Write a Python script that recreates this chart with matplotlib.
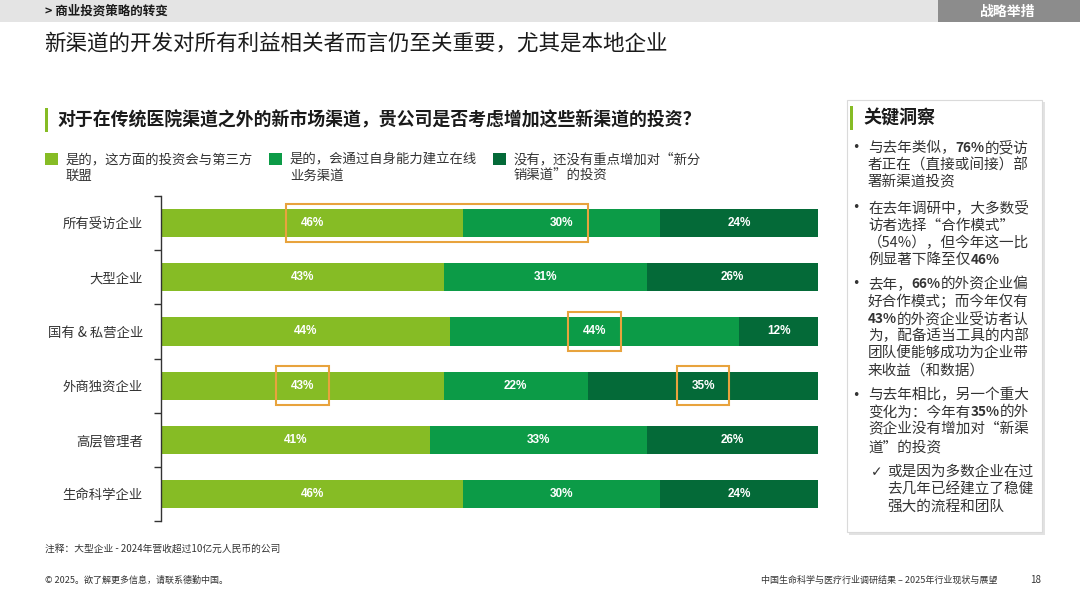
import matplotlib
matplotlib.use("Agg")
import matplotlib.pyplot as plt
from matplotlib.patches import Rectangle
import numpy as np

plt.rcParams['font.family'] = ['Noto Sans CJK SC', 'DejaVu Sans']

# ---------------- data ----------------
categories = ["所有受访企业", "大型企业", "国有 & 私营企业", "外商独资企业", "高层管理者", "生命科学企业"]
third_party = [46, 43, 44, 43, 41, 46]
own_online = [30, 31, 44, 22, 33, 30]
no_increase = [24, 26, 12, 35, 26, 24]
series = [third_party, own_online, no_increase]
legend_lines = [["是的，这方面的投资会与第三方", "联盟"],
                ["是的，会通过自身能力建立在线", "业务渠道"],
                ["没有，还没有重点增加对“新分", "销渠道”的投资"]]
# highlighted cells: (row, first series, last series)
highlights = [(0, 0, 1), (2, 1, 1), (3, 0, 0), (3, 2, 2)]

colors = ["#86BC25", "#0C9B47", "#046A38"]
orange = "#E8A33D"

W, H = 1080, 608
fig = plt.figure(figsize=(W / 100, H / 100), dpi=100)
fig.patch.set_facecolor("white")


def fx(x):
    return x / W


def fy(y):
    return 1 - y / H


def rect(x0, y0, x1, y1, **kw):
    fig.patches.append(Rectangle((fx(x0), fy(y1)), fx(x1) - fx(x0), fy(y0) - fy(y1),
                                 transform=fig.transFigure, **kw))


# ---------------- header ----------------
rect(0, 0, 938, 22, facecolor="#E4E4E4", edgecolor="none")
rect(938, 0, 1080, 22, facecolor="#8C8C8C", edgecolor="none")
fig.text(fx(45), fy(11.5), "> 商业投资策略的转变", fontsize=9, fontweight="bold",
         color="#1A1A1A", va="center", ha="left")
fig.text(fx(1008), fy(11.5), "战略举措", fontsize=10, fontweight="bold",
         color="white", va="center", ha="center")

fig.text(fx(44), fy(44), "新渠道的开发对所有利益相关者而言仍至关重要，尤其是本地企业",
         fontsize=15.5, fontweight="medium", color="#1A1A1A", va="center", ha="left")

# question
rect(45, 108, 48, 132, facecolor="#86BC25", edgecolor="none")
fig.text(fx(57), fy(120), "对于在传统医院渠道之外的新市场渠道，贵公司是否考虑增加这些新渠道的投资？",
         fontsize=12.9, fontweight="bold", color="#1A1A1A", va="center", ha="left")

# legend
leg_x = [45, 269, 493]
for i, lines in enumerate(legend_lines):
    rect(leg_x[i], 153, leg_x[i] + 13, 165, facecolor=colors[i], edgecolor="none")
    for j, ln in enumerate(lines):
        fig.text(fx(leg_x[i] + 21), fy(159 + j * 16.5), ln, fontsize=9.6,
                 color="#333333", va="center", ha="left")

# ---------------- bar chart ----------------
ax = fig.add_axes([fx(161), fy(521), fx(818) - fx(161), fy(196) - fy(521)])
y = np.arange(len(categories))
left = np.zeros(len(categories))
for k, vals in enumerate(series):
    vals = np.array(vals, dtype=float)
    ax.barh(y, vals, left=left, height=0.52, color=colors[k], edgecolor="none")
    for i, v in enumerate(vals):
        ax.text(left[i] + v / 2, y[i], f"{int(v)}%", ha="center", va="center",
                fontsize=8.5, fontweight="bold", color="white",
                family=["Liberation Sans", "DejaVu Sans"])
    left += vals

cum = np.cumsum(np.array(series), axis=0)
starts = cum - np.array(series)
for row, s0, s1 in highlights:
    c0 = starts[s0][row] + series[s0][row] / 2
    c1 = starts[s1][row] + series[s1][row] / 2
    x0, x1 = c0 - 4.0, c1 + 4.0
    ax.add_patch(Rectangle((x0, row - 0.355), x1 - x0, 0.71, fill=False,
                           edgecolor=orange, linewidth=1.5, zorder=5, clip_on=False))

ax.set_xlim(0, 100)
ax.set_ylim(len(categories) - 0.5, -0.5)
ax.set_yticks(y)
ax.set_yticklabels(categories, fontsize=9.6, color="#333333")
ax.set_yticks(np.arange(-0.5, len(categories), 1.0), minor=True)
ax.tick_params(axis="y", which="major", length=0, pad=13)
ax.tick_params(axis="y", which="minor", length=5, width=1, color="#333333", direction="out")
ax.set_xticks([])
for sp in ["top", "right", "bottom"]:
    ax.spines[sp].set_visible(False)
ax.spines["left"].set_color("#333333")
ax.spines["left"].set_linewidth(1)
ax.set_facecolor("none")

# ---------------- insights box ----------------
rect(849, 102, 1045, 535, facecolor="#E2E2E2", edgecolor="none", zorder=0)
rect(847, 100, 1042, 532, facecolor="white", edgecolor="#DADADA", linewidth=0.8, zorder=0.5)
rect(850, 106, 853, 130, facecolor="#86BC25", edgecolor="none")
fig.text(fx(863), fy(118), "关键洞察", fontsize=13, fontweight="bold", color="#1A1A1A",
         va="center", ha="left")

renderer = fig.canvas.get_renderer()


def rich(x, y, segs, size=10.5, color="#333333"):
    cx = x
    for seg in segs:
        if isinstance(seg, tuple):
            s, b = seg
        else:
            s, b = seg, False
        t = fig.text(fx(cx), fy(y), s, fontsize=size - 0.7 if b else size,
                     fontweight="bold" if b else "normal",
                     color=color, va="center", ha="left")
        cx += t.get_window_extent(renderer).width


bullets = [
    (148, [["与去年类似，", ("76%", True), "的受访"], ["者正在（直接或间接）部"], ["署新渠道投资"]]),
    (208, [["在去年调研中，大多数受"], ["访者选择“合作模式”"], ["（54%），但今年这一比"],
           ["例显著下降至仅", ("46%", True)]]),
    (284, [["去年，", ("66%", True), "的外资企业偏"], ["好合作模式；而今年仅有"],
           [("43%", True), "的外资企业受访者认"], ["为，配备适当工具的内部"],
           ["团队便能够成功为企业带"], ["来收益（和数据）"]]),
    (395, [["与去年相比，另一个重大"], ["变化为：今年有", ("35%", True), "的外"],
           ["资企业没有增加对“新渠"], ["道”的投资"]]),
]
lh = 17.3
for y0, lines in bullets:
    fig.text(fx(852), fy(y0), "•", fontsize=9, color="#333333", va="center", ha="left",
             family=["DejaVu Sans"])
    for j, segs in enumerate(lines):
        rich(868, y0 + j * lh, segs)

check_lines = ["或是因为多数企业在过", "去几年已经建立了稳健", "强大的流程和团队"]
fig.text(fx(871), fy(472), "✓", fontsize=10, color="#333333", va="center", ha="left",
         family=["DejaVu Sans"])
for j, ln in enumerate(check_lines):
    rich(887, 472 + j * lh, [ln])

# ---------------- footer ----------------
fig.text(fx(45), fy(549), "注释：大型企业 - 2024年营收超过10亿元人民币的公司", fontsize=7,
         color="#333333", va="center", ha="left")
fig.text(fx(45), fy(580), "© 2025。欲了解更多信息，请联系德勤中国。", fontsize=6.5,
         color="#333333", va="center", ha="left")
fig.text(fx(997), fy(580), "中国生命科学与医疗行业调研结果 – 2025年行业现状与展望", fontsize=6.5,
         color="#333333", va="center", ha="right")
fig.text(fx(1030), fy(580), "18", fontsize=7, color="#333333", va="center", ha="left")

fig.savefig("out.png", dpi=100, facecolor="white")
